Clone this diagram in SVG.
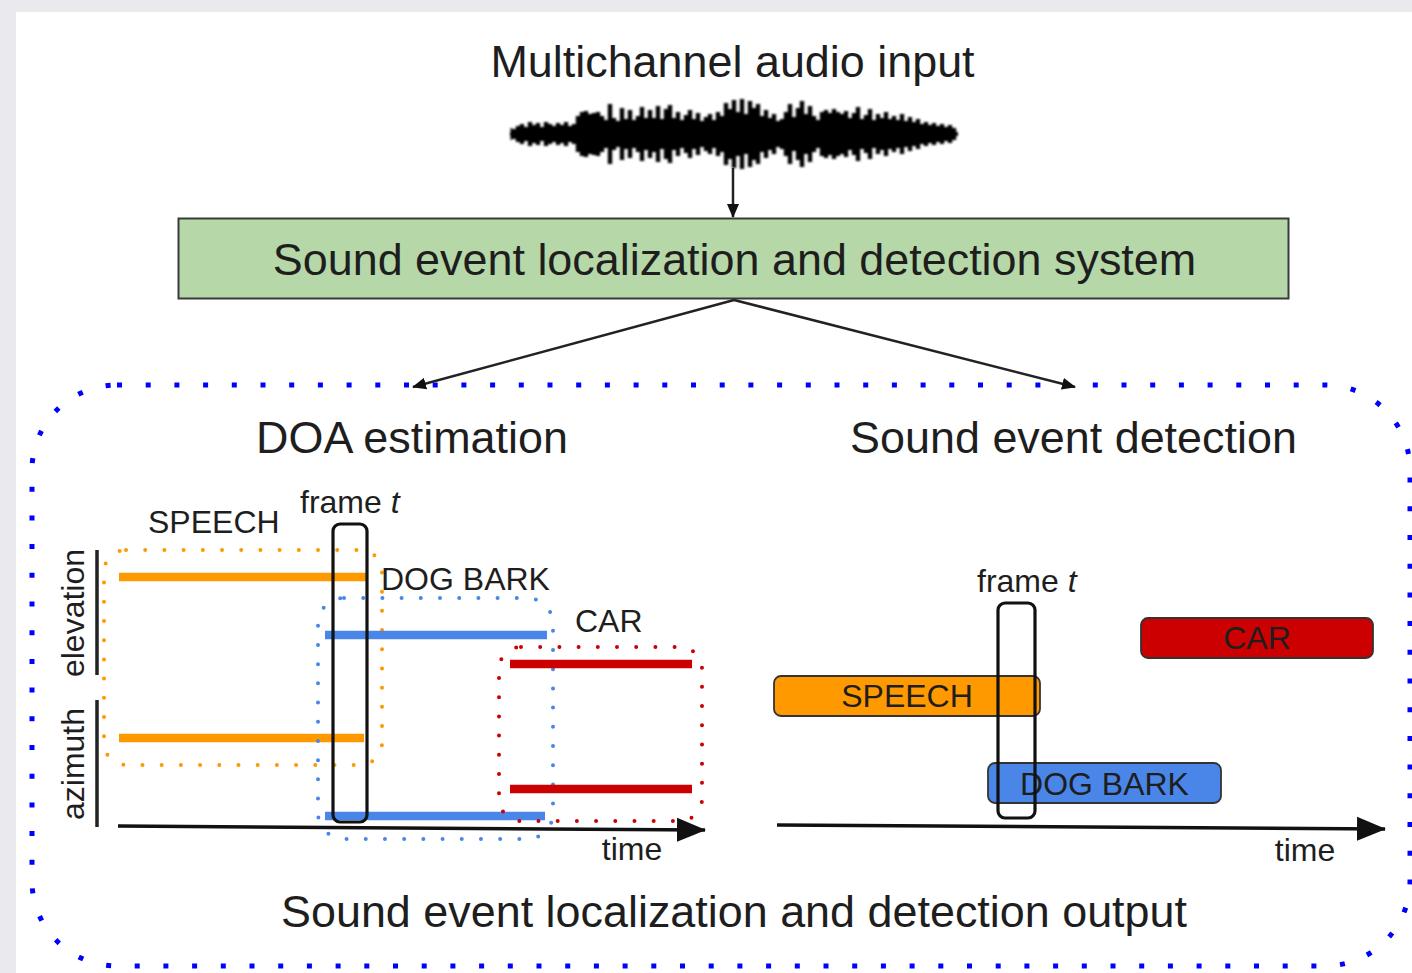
<svg xmlns="http://www.w3.org/2000/svg" width="1412" height="973" viewBox="0 0 1412 973">
  <style>
    text { font-family: "Liberation Sans", Arial, sans-serif; fill: #1e1e1e; }
    .big { font-size: 44.9px; }
    .lbl { font-size: 32px; }
    .mid { text-anchor: middle; }
    .conn { fill: none; stroke: #222; stroke-width: 2.5; }
    .axis { fill: none; stroke: #111; stroke-width: 3.5; }
    .yaxis { fill: none; stroke: #222; stroke-width: 3.5; }
    .frame { fill: none; stroke: #111; stroke-width: 3.2; }
    .dots { fill: none; stroke-width: 4; stroke-linecap: round; stroke-dasharray: 0 19.2; }
    .bar { fill: none; stroke-width: 8.5; stroke-linecap: butt; }
    .orange { stroke: #ff9900; }
    .blue { stroke: #4a86e8; }
    .red { stroke: #cc0000; }
    .evt { stroke: #333; stroke-width: 1.8; }
  </style>
  <defs>
    <marker id="head" markerUnits="userSpaceOnUse" markerWidth="14" markerHeight="12" refX="13" refY="6" orient="auto">
      <path d="M0,0 L14,6 L0,12 z" fill="#111"/>
    </marker>
    <marker id="axisHead" markerUnits="userSpaceOnUse" markerWidth="30" markerHeight="26" refX="28" refY="13" orient="auto">
      <path d="M0,1 L29,13 L0,25 z" fill="#111"/>
    </marker>
    <filter id="soft" x="-5%" y="-20%" width="110%" height="140%">
      <feGaussianBlur stdDeviation="0.9"/>
    </filter>
  </defs>

  <!-- page background and white sheet -->
  <rect x="0" y="0" width="1412" height="973" fill="#eae9ee"/>
  <rect x="16" y="12" width="1396" height="961" fill="#ffffff"/>

  <!-- input: label and waveform -->
  <g id="input">
    <text class="big mid" x="732.5" y="77">Multichannel audio input</text>
    <g id="waveform" fill="none" stroke="#000" filter="url(#soft)">
      <path d="M510 134H958" stroke-width="4"/>
      <path d="M511 128L514 134L511 140z" fill="#000" stroke-width="1"/>
      <path stroke-width="4.4" d="M514 129V139M518 126V142M522 124V144M526 127V141M530 122V146M534 125V143M538 123V145M542 127V141M546 122V146M550 124V144M554 126V142M558 123V145M562 125V143M566 122V146M570 126V142M574 124V144M578 116V152M582 112V156M586 111V157M590 114V154M594 113V155M598 112V156M602 116V152M606 120V148M610 104V164M614 118V150M618 121V147M622 108V160M626 119V149M630 110V158M634 120V148M638 116V152M642 107V161M646 118V150M650 110V158M654 118V152M658 106V162M662 119V149M666 109V159M670 105V163M674 118V150M678 112V156M682 120V148M686 115V153M690 110V158M694 119V149M698 113V155M702 121V147M706 117V151M710 114V154M714 120V148M718 112V156M722 116V152M726 103V165M730 109V159M734 100V168M738 112V156M742 99V169M746 114V154M750 101V167M754 108V160M758 104V164M762 116V152M766 110V158M770 118V150M774 114V154M778 121V147M782 119V149M786 112V156M790 104V164M794 117V151M798 108V160M802 101V167M806 114V154M810 106V162M814 116V152M818 120V148M822 112V156M826 110V158M830 113V155M834 109V159M838 112V156M842 114V154M846 111V157M850 118V150M854 113V155M858 107V161M862 119V149M866 115V153M870 109V159M874 120V148M878 114V154M882 118V150M886 112V156M890 119V149M894 116V152M898 120V148M902 114V154M906 121V147M910 117V151M914 122V146M918 119V149M922 124V144M926 122V146M930 125V143M934 123V145M938 126V142M942 124V144M946 127V141M950 125V143M954 128V140"/>
    </g>
  </g>

  <!-- system block -->
  <g id="system">
    <rect x="178.5" y="218.5" width="1110" height="80" fill="#b6d7a8" stroke="#3a3a3a" stroke-width="2"/>
    <text class="big mid" x="734.5" y="275">Sound event localization and detection system</text>
  </g>

  <!-- output container -->
  <g id="output">
    <rect x="32" y="385" width="1378" height="581" rx="85" ry="85" fill="none" stroke="#0000ff" stroke-width="5" stroke-dasharray="5 23.7"/>
    <text class="big mid" x="734" y="927">Sound event localization and detection output</text>
  </g>

  <!-- DOA estimation panel -->
  <g id="doa">
    <text class="big mid" x="412" y="453">DOA estimation</text>
    <path class="yaxis" d="M97 550V675M97 700V827"/>
    <text class="lbl mid" transform="translate(84 613) rotate(-90)">elevation</text>
    <text class="lbl mid" transform="translate(84 764) rotate(-90)">azimuth</text>
    <path class="axis" d="M118 826L705 830" marker-end="url(#axisHead)"/>
    <text class="lbl mid" x="632" y="860">time</text>

    <g id="doa-speech">
      <rect class="dots orange" x="104" y="550" width="278" height="215" rx="22"/>
      <path class="bar orange" d="M119 577H367M119 738H364"/>
      <text class="lbl" x="148" y="533">SPEECH</text>
    </g>
    <g id="doa-dogbark">
      <rect class="dots blue" x="318" y="598" width="235" height="241" rx="26"/>
      <path class="bar blue" d="M325 635H547M325 816H545"/>
      <text class="lbl" x="381" y="590">DOG BARK</text>
    </g>
    <g id="doa-car">
      <rect class="dots red" x="499" y="647" width="203" height="174" rx="22"/>
      <path class="bar red" d="M510 664H692M510 789H692"/>
      <text class="lbl" x="575" y="632">CAR</text>
    </g>
    <g id="doa-frame">
      <rect class="frame" x="333" y="524" width="34" height="298" rx="7"/>
      <text class="lbl" x="300" y="513">frame <tspan font-style="italic">t</tspan></text>
    </g>
  </g>

  <!-- Sound event detection panel -->
  <g id="sed">
    <text class="big mid" x="1073.5" y="453">Sound event detection</text>
    <path class="axis" d="M777 825L1385 829" marker-end="url(#axisHead)"/>
    <text class="lbl mid" x="1305" y="861">time</text>

    <g id="sed-speech">
      <rect class="evt" x="774" y="676" width="266" height="40" rx="7" fill="#ff9900"/>
      <text class="lbl mid" x="907" y="707">SPEECH</text>
    </g>
    <g id="sed-car">
      <rect class="evt" x="1141" y="618" width="232" height="40" rx="7" fill="#cc0000"/>
      <text class="lbl mid" x="1257" y="649">CAR</text>
    </g>
    <g id="sed-dogbark">
      <rect class="evt" x="988" y="763" width="233" height="40" rx="7" fill="#4a86e8"/>
      <text class="lbl mid" x="1104.5" y="795">DOG BARK</text>
    </g>
    <g id="sed-frame">
      <rect class="frame" x="998" y="603" width="37" height="215" rx="7"/>
      <text class="lbl" x="977" y="592">frame <tspan font-style="italic">t</tspan></text>
    </g>
  </g>

  <!-- connectors -->
  <g id="connectors">
    <path class="conn" d="M733 168V217" marker-end="url(#head)"/>
    <path class="conn" d="M734 300L413 387" marker-end="url(#head)"/>
    <path class="conn" d="M734 300L1075 387" marker-end="url(#head)"/>
  </g>
</svg>
